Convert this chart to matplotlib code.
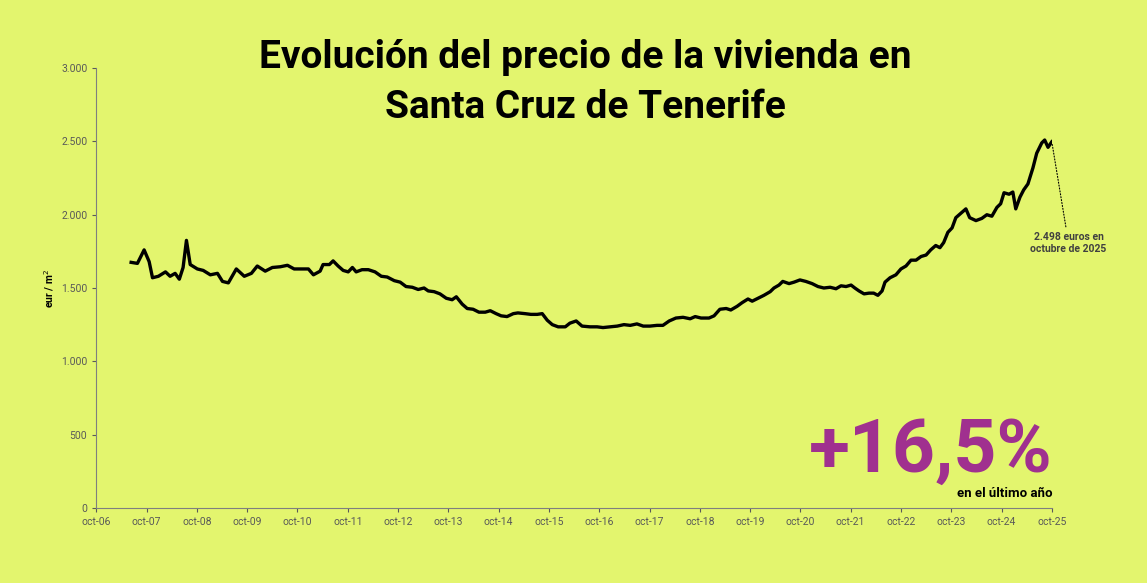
import matplotlib
matplotlib.use("Agg")
import matplotlib.pyplot as plt
from matplotlib.ticker import FuncFormatter

plt.rcParams["font.family"] = ["Roboto", "DejaVu Sans"]

# meses desde oct-06
months = [8.3, 9.8, 11.4, 12.6, 13.4, 14.8, 16.5, 17.6, 18.8, 19.8, 20.7, 21.5, 22.4, 24.1, 25.5,
          27.2, 28.9, 30.1, 31.5, 33.4, 35.3, 37.0, 38.4, 40.3, 42.0, 43.9, 45.6, 47.2, 49.1, 50.6,
          51.8, 53.4, 54.1, 55.6, 56.5, 57.7, 58.9, 60.1, 61.1, 62.0, 63.4, 64.9, 66.5, 68.0, 69.4,
          71.1, 72.5, 73.9, 75.4, 76.8, 78.2, 79.2, 80.6, 82.0, 83.5, 84.9, 85.9, 87.3, 88.5, 89.9,
          91.3, 92.8, 94.0, 95.4, 96.6, 98.0, 99.5, 100.6, 102.3, 103.7, 105.2, 106.4, 107.6, 108.8,
          110.2, 111.9, 113.0, 114.5, 115.9, 117.8, 119.5, 120.9, 122.6, 124.3, 125.9, 127.4, 129.0,
          130.5, 132.1, 133.8, 135.2, 136.7, 138.3, 140.0, 141.7, 142.9, 144.3, 146.2, 147.4, 148.8,
          150.3, 151.4, 152.9, 154.1, 155.5, 156.5, 157.9, 159.3, 160.8, 161.7, 162.9, 163.8, 165.3,
          166.5, 167.9, 169.3, 170.8, 172.2, 173.6, 175.1, 176.5, 177.7, 178.9, 180.1, 181.0, 182.0,
          183.2, 184.4, 185.5, 186.5, 187.5, 188.2, 189.4, 190.8, 192.0, 193.2, 194.4, 195.6, 196.8,
          198.0, 199.1, 200.3, 201.3, 202.2, 203.2, 204.2, 205.1, 206.3, 207.5, 208.4, 209.9, 211.3,
          212.5, 213.7, 214.9, 215.8, 216.6, 217.8, 218.7, 219.4, 220.4, 221.3, 222.3, 223.5, 224.4,
          225.6, 226.3, 227.1, 228.0]
prices = [1675, 1668, 1760, 1680, 1570, 1580, 1610, 1580, 1600, 1560, 1640, 1825, 1660, 1630, 1620,
          1590, 1600, 1545, 1535, 1630, 1580, 1600, 1650, 1615, 1640, 1645, 1655, 1630, 1630, 1630,
          1590, 1615, 1660, 1660, 1685, 1650, 1620, 1610, 1640, 1610, 1625, 1625, 1610, 1580, 1575,
          1550, 1540, 1510, 1505, 1490, 1500, 1480, 1475, 1460, 1430, 1420, 1440, 1390, 1360, 1355,
          1335, 1335, 1345, 1325, 1310, 1305, 1325, 1330, 1325, 1320, 1320, 1325, 1280, 1250,
          1235, 1235, 1260, 1275, 1240, 1235, 1235, 1230, 1235, 1240, 1250, 1245, 1255,
          1240, 1240, 1245, 1245, 1275, 1295, 1300, 1290, 1305, 1295, 1295, 1310, 1355,
          1360, 1350, 1375, 1400, 1425, 1410, 1430, 1450, 1475, 1500, 1520, 1545, 1530,
          1540, 1555, 1545, 1530, 1510, 1500, 1505, 1495, 1515, 1510, 1520, 1500,
          1480, 1460, 1465, 1465, 1450, 1480, 1540, 1570, 1590, 1630, 1650, 1690, 1690,
          1715, 1725, 1760, 1790, 1775, 1810, 1880, 1910, 1980, 2010, 2040, 1980, 1960,
          1975, 2000, 1990, 2050, 2075, 2150, 2140, 2155, 2040, 2120, 2170, 2210, 2320, 2420,
          2490, 2510, 2460, 2498]
tick_labels = [f"oct-{y:02d}" for y in range(6, 26)]

bg = "#E3F56E"
fig = plt.figure(figsize=(11.47, 5.83), dpi=100, facecolor=bg)
ax = fig.add_axes([0.084, 0.129, 0.833, 0.754], facecolor=bg)
ax.plot(months, prices, color="black", lw=2.4)
ax.set_xlim(0, 228)
ax.set_ylim(0, 3000)
ax.set_xticks([12 * i for i in range(len(tick_labels))])
ax.set_xticklabels(tick_labels)
ax.set_yticks(range(0, 3001, 500))
ax.yaxis.set_major_formatter(FuncFormatter(lambda v, p: f"{int(v):,}".replace(",", ".")))
ax.tick_params(colors="#595959", labelsize=7.5, length=3)
for s in ["top", "right"]:
    ax.spines[s].set_visible(False)
for s in ["left", "bottom"]:
    ax.spines[s].set_color("#7f7f7f")
ax.set_ylabel("eur / m$^2$", fontsize=7.5, fontweight="bold")

fig.text(0.51, 0.858, "Evolución del precio de la vivienda en\nSanta Cruz de Tenerife", ha="center",
         va="center", fontsize=28, fontweight="bold", linespacing=1.45)

ax.annotate("2.498 euros en\noctubre de 2025", xy=(months[-1], prices[-1]), xytext=(232, 1880),
            ha="center", va="top", fontsize=7.5, fontweight="bold", color="#404040",
            arrowprops=dict(arrowstyle="-", ls=":", color="black", lw=0.8))
fig.text(0.918, 0.19, "+16,5%", ha="right", va="baseline", fontsize=54, fontweight="bold", color="#A0308F")
fig.text(0.918, 0.147, "en el último año", ha="right", va="baseline", fontsize=9.5, fontweight="bold")

fig.savefig("out.png", dpi=100, facecolor=bg)
